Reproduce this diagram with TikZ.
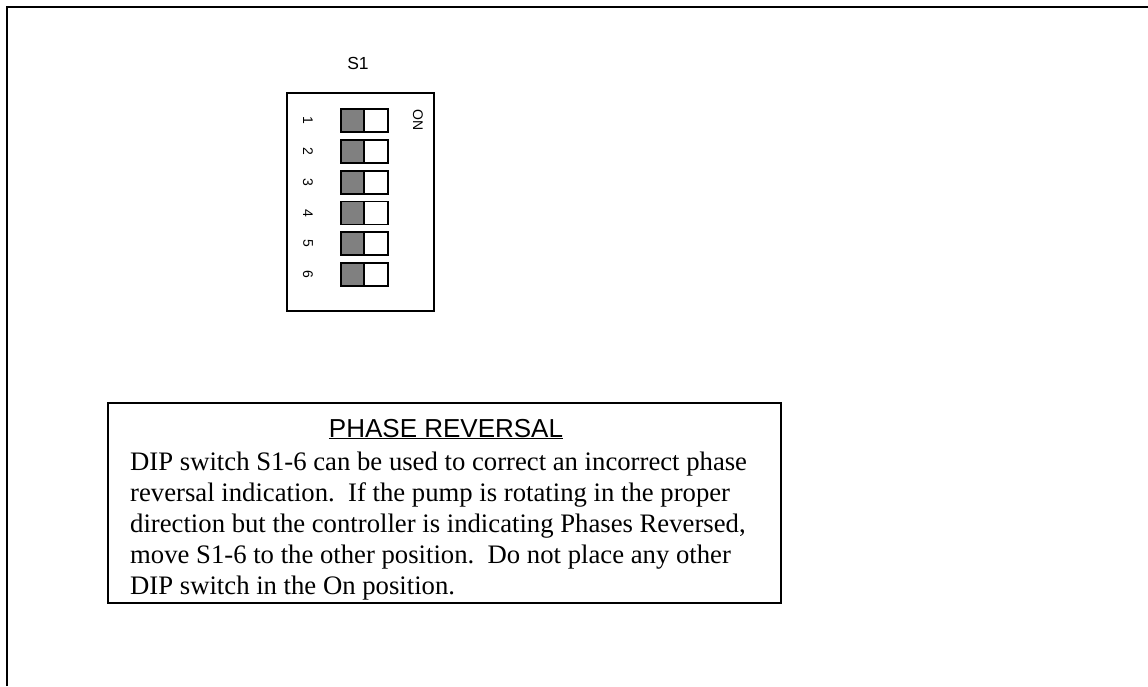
\documentclass[tikz,border=0pt]{standalone}
\usepackage{fontspec}
\setmainfont{Liberation Serif}
\setsansfont{Liberation Sans}
\definecolor{swgray}{RGB}{128,128,128}
\tikzset{
  frameline/.style={line width=2pt, black},
  boxline/.style={line width=1.5pt, black},
  swoff/.style={draw=black, line width=1.8pt, fill=swgray},
  swon/.style={draw=black, line width=1.8pt, fill=white},
  numlabel/.style={font=\sffamily\fontsize{14}{14}\selectfont, rotate=-90, inner sep=0pt},
  bodyline/.style={font=\rmfamily\fontsize{26.7}{31}\selectfont, anchor=base west, inner sep=0pt},
}
\begin{document}
\begin{tikzpicture}[x=1pt,y=-1pt]
\useasboundingbox (0,0) rectangle (1148,686);
% outer frame (continues past the page)
\draw[frameline] (7,686) -- (7,7) -- (1148,7);
% DIP switch block
\node[font=\sffamily\fontsize{17.5}{17.5}\selectfont, inner sep=0pt] (s1) at (358,63) {S1};
\draw[boxline] (287,93) rectangle (434,311);
\foreach \i in {1,...,6}{
  \pgfmathsetmacro{\yt}{109+30.8*(\i-1)}
  \pgfmathsetmacro{\yc}{\yt+11.5}
  \draw[swoff] (341,\yt) rectangle (364,\yt+23);
  \draw[swon] (364,\yt) rectangle (388,\yt+23);
  \node[numlabel] (n\i) at (308,\yc) {\i};
}
\node[numlabel] (on) at (418,120) {ON};
% text box
\draw[boxline] (108,403) rectangle (781,603);
\node[font=\sffamily\fontsize{26}{26}\selectfont, anchor=base, inner sep=0pt] (title) at (446,437) {\underline{PHASE REVERSAL}};
\node[bodyline] (l1) at (130,470) {DIP switch S1-6 can be used to correct an incorrect phase};
\node[bodyline] (l2) at (130,501) {reversal indication.\ \ If the pump is rotating in the proper};
\node[bodyline] (l3) at (130,532) {direction but the controller is indicating Phases Reversed,};
\node[bodyline] (l4) at (130,563) {move S1-6 to the other position.\ \ Do not place any other};
\node[bodyline] (l5) at (130,594) {DIP switch in the On position.};
\end{tikzpicture}
\end{document}
